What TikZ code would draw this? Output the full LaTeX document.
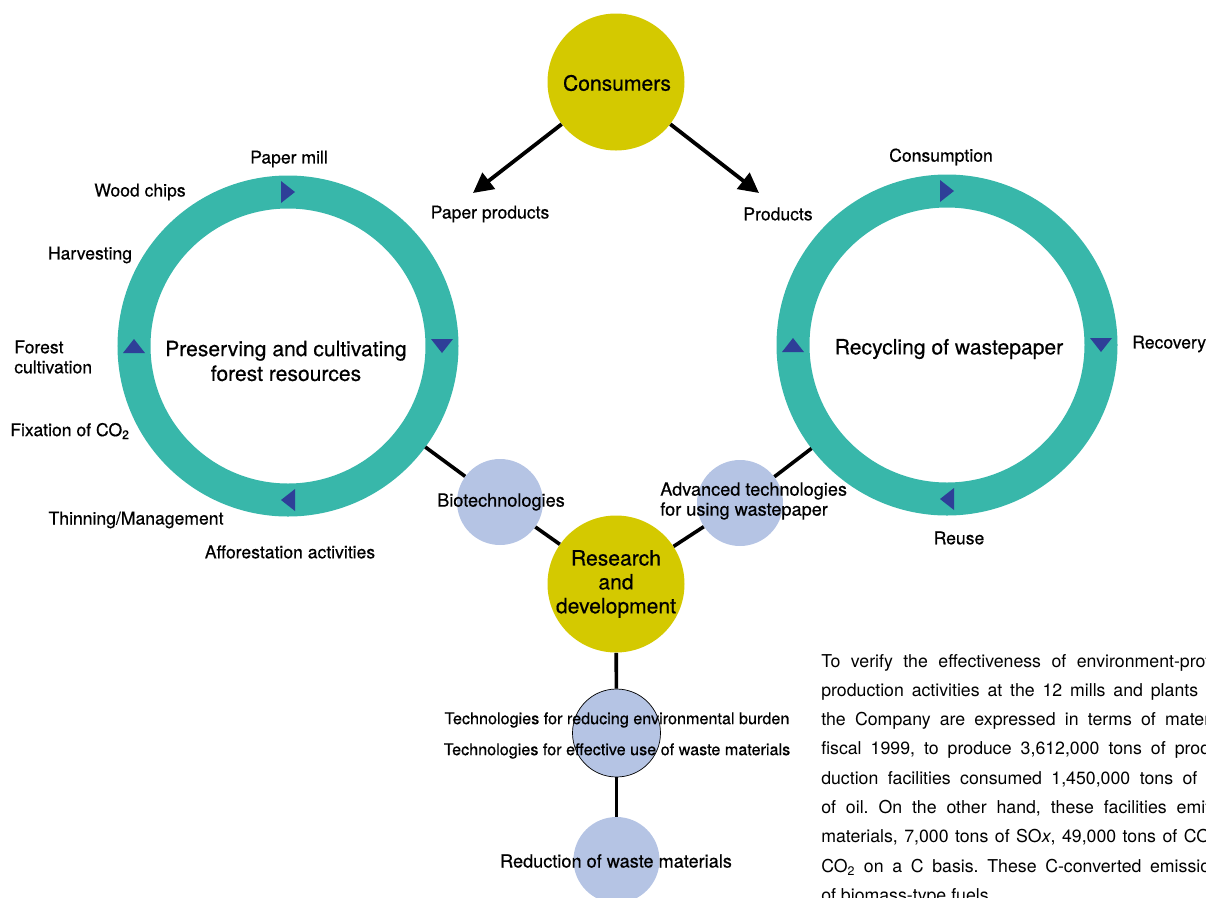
\documentclass[tikz,border=0pt]{standalone}
\usepackage{fontspec}
\setmainfont{TeX Gyre Heros}
\newfontfamily\medfont{TeX Gyre Heros}[FakeBold=0.5]
\usetikzlibrary{arrows.meta,calc}
\newcommand{\pxu}{0.025cm}
\definecolor{ringteal}{RGB}{56,183,170}
\definecolor{mustard}{RGB}{212,201,0}
\definecolor{lavender}{RGB}{181,196,228}
\definecolor{flowblue}{RGB}{46,63,152}
\tikzset{
    ringsty/.style={circle,draw=ringteal,line width=33*\pxu,minimum size=308*\pxu,inner sep=0pt},
    yelsty/.style={circle,fill=mustard,minimum size=137*\pxu,inner sep=0pt},
    bubsty/.style={circle,fill=lavender,minimum size=86*\pxu,inner sep=0pt},
    linksty/.style={line width=3.6*\pxu},
    arrsty/.style={->,line width=3.8*\pxu},
    tipsty/.style={fill=flowblue},
    lblsty/.style={font=\medfont\fontsize{12.5}{14.2}\selectfont,inner sep=0pt},
    biglblsty/.style={font=\medfont\fontsize{12.9}{14.2}\selectfont,inner sep=0pt},
    smlblsty/.style={font=\medfont\fontsize{11.5}{14.2}\selectfont,inner sep=0pt},
    titlesty/.style={font=\medfont\fontsize{15}{17.6}\selectfont,align=center,inner sep=0pt},
    parsty/.style={font=\fontsize{12.6}{20}\selectfont\frenchspacing,inner sep=0pt,anchor=base west},
}

\begin{document}
\begin{tikzpicture}[x=\pxu,y=\pxu,>={Triangle[length=0.5cm,width=0.5cm]}]
  \useasboundingbox (0,0) rectangle (1206,-897);

  % the two cycles
  \node[ringsty] (lring) at (288,-346) {};
  \node[ringsty] (rring) at (947,-345) {};
  \foreach \a in {0,90,180,270}{
    \fill[tipsty,shift={($(lring.center)+(\a:154)$)},rotate=\a-90] (7,0) -- (-7,11) -- (-7,-11) -- cycle;
    \fill[tipsty,shift={($(rring.center)+(\a:154)$)},rotate=\a-90] (7,0) -- (-7,11) -- (-7,-11) -- cycle;
  }
  \node[titlesty] (ltitle) at (286,-361) {Preserving and cultivating\\forest resources};
  \node[titlesty] (rtitle) at (949,-349) {Recycling of wastepaper};

  % consumers and R&D
  \node[yelsty] (cons) at (616,-82) {};
  \node[titlesty] (constxt) at (617,-83) {Consumers};
  \node[yelsty] (rnd) at (616,-584) {};
  \node[titlesty,font=\medfont\fontsize{15}{17}\selectfont] (rndtxt) at (616,-584) {Research\\and\\development};

  % technology bubbles
  \node[bubsty] (bio) at (500,-502) {};
  \node[bubsty] (adv) at (740,-503) {};
  \node[bubsty,draw=black,line width=0.5pt,minimum size=88*\pxu] (tech) at (616.5,-733) {};
  \node[bubsty] (redu) at (616.5,-860) {};

  \draw[linksty] (lring) -- (bio);
  \draw[linksty] (bio) -- (rnd);
  \draw[linksty] (rring) -- (adv);
  \draw[linksty] (adv) -- (rnd);
  \draw[linksty] (rnd) -- (tech);
  \draw[linksty] (tech) -- (redu);

  \coordinate (pptip) at (473,-193);
  \coordinate (prtip) at (759,-193);
  \draw[arrsty] (cons) -- (pptip);
  \draw[arrsty] (cons) -- (prtip);

  \node[biglblsty] (biotxt) at (501,-502) {Biotechnologies};
  \node[biglblsty,align=left,anchor=west] (advtxt) at (660,-501) {Advanced technologies\\for using wastepaper};
  \node[smlblsty] (techa) at (617,-720) {Technologies for reducing environmental burden};
  \node[smlblsty] (techb) at (617,-751) {Technologies for effective use of waste materials};
  \node[biglblsty] (redutxt) at (616,-861) {Reduction of waste materials};

  % labels round the forest cycle
  \node[lblsty] (mill) at (289,-159) {Paper mill};
  \node[lblsty] (chips) at (140,-192) {Wood chips};
  \node[lblsty] (harv) at (90,-255) {Harvesting};
  \node[lblsty,align=left,anchor=west] (cult) at (14,-357) {Forest\\cultivation};
  \node[lblsty,anchor=west] (fix) at (10,-431) {Fixation of CO\textsubscript{2}};
  \node[lblsty] (thin) at (136,-520) {Thinning/Management};
  \node[lblsty] (affo) at (290,-552) {Afforestation activities};
  \node[lblsty] (pprod) at (490,-214) {Paper products};

  % labels round the recycling cycle
  \node[lblsty] (prod) at (778,-214) {Products};
  \node[lblsty] (cnsm) at (941,-157) {Consumption};
  \node[lblsty,anchor=west] (reco) at (1132,-344) {Recovery};
  \node[lblsty] (reus) at (959,-538) {Reuse};

  % text block
  \node[parsty] (par1) at (821,-667) {\makebox[9.72cm][s]{To verify the effectiveness of environment-prot}};
  \node[parsty] (par2) at (821,-696.3) {\makebox[9.42cm][s]{production activities at the 12 mills and plants}};
  \node[parsty] (par3) at (821,-725.6) {\makebox[9.72cm][s]{the Company are expressed in terms of mater}};
  \node[parsty] (par4) at (821,-754.9) {\makebox[9.72cm][s]{fiscal 1999, to produce 3,612,000 tons of prod}};
  \node[parsty] (par5) at (821,-784.2) {\makebox[9.4cm][s]{duction facilities consumed 1,450,000 tons of}};
  \node[parsty] (par6) at (821,-813.5) {\makebox[9.72cm][s]{of oil. On the other hand, these facilities emit}};
  \node[parsty] (par7) at (821,-842.8) {\makebox[9.72cm][s]{materials, 7,000 tons of SO\textit{x}, 49,000 tons of CO}};
  \node[parsty] (par8) at (821,-872.1) {\makebox[9.72cm][s]{CO\textsubscript{2} on a C basis. These C-converted emissio}};
  \node[parsty] (par9) at (821,-901.4) {of biomass-type fuels.};
\end{tikzpicture}
\end{document}
